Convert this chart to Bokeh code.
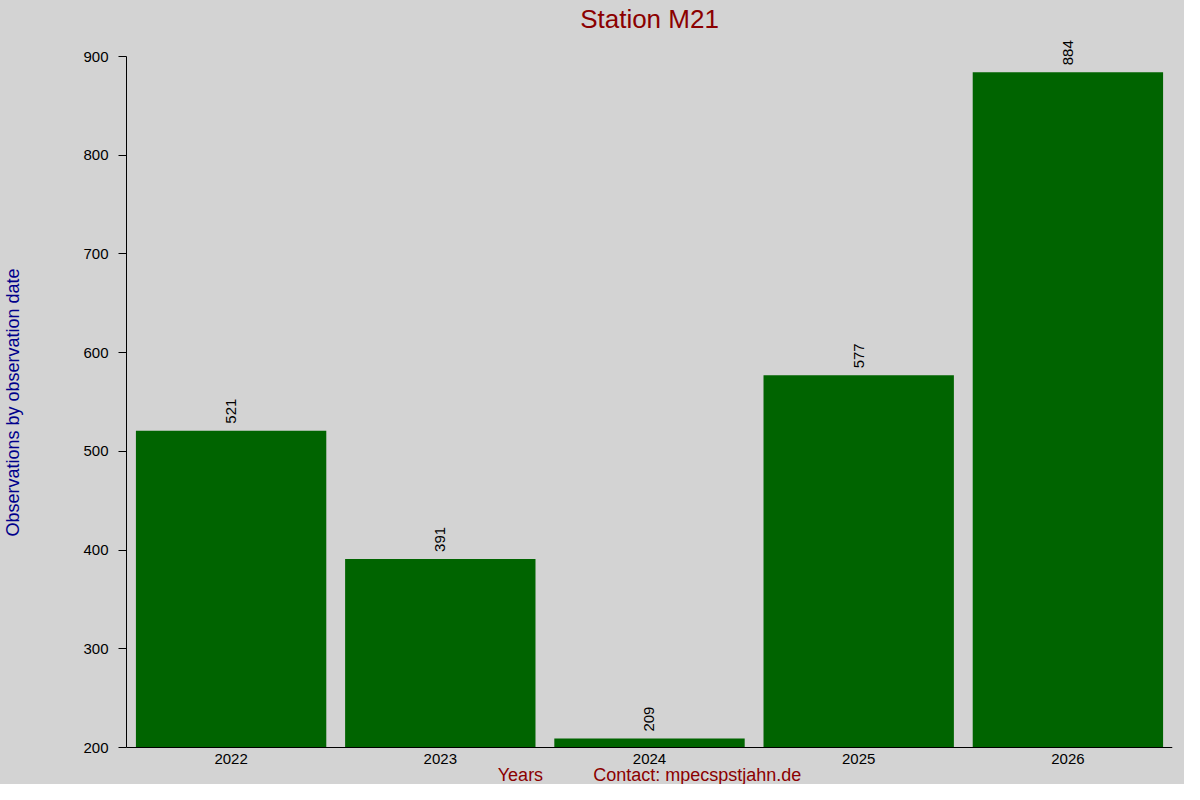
from math import pi

from bokeh.plotting import figure
from bokeh.models import ColumnDataSource, LabelSet, Label, FixedTicker, Range1d
from bokeh.core.properties import value
from bokeh.embed import file_html
from bokeh.resources import INLINE

years = ["2022", "2023", "2024", "2025", "2026"]
counts = [521, 391, 209, 577, 884]
y_ticks = [200, 300, 400, 500, 600, 700, 800, 900]

FONT = "Liberation Sans"
BG = "#d3d3d3"
W, H = 1184, 784

# frame spans the whole height so that labels above 900 and the texts under
# the axis are not clipped; the axes only cover 200..900
y_min, y_max = y_ticks[0], y_ticks[-1]
top_px, bottom_px = 56, 747
px_per_unit = (bottom_px - top_px) / (y_max - y_min)
y_lo = y_min - (H - bottom_px) / px_per_unit
y_hi = y_max + top_px / px_per_unit

source = ColumnDataSource(data=dict(year=years, count=counts, label=[str(c) for c in counts]))

p = figure(x_range=years, y_range=Range1d(y_lo, y_hi), width=W, height=H,
           output_backend="svg", toolbar_location=None,
           min_border_left=126, min_border_right=12, min_border_top=0, min_border_bottom=0)
p.x_range.range_padding = 0
p.styles = {"background-color": BG}

p.vbar(x="year", top="count", bottom=y_min, width=0.91, source=source,
       fill_color="#006400", line_color=None)

p.add_layout(LabelSet(x="year", y="count", text="label", source=source, angle=pi / 2,
                      text_align="left", text_baseline="middle", y_offset=7,
                      text_font=value(FONT), text_font_size="15px", text_color="black"))

# title
p.add_layout(Label(x=len(years) / 2, y=y_max + 38 / px_per_unit, text="Station M21",
                   text_align="center", text_baseline="middle", text_font=FONT,
                   text_font_size="26px", text_color="#8b0000"))

# x axis caption
p.add_layout(Label(x=len(years) / 2, y=y_lo,
                   text="Years" + "\u00a0" * 10 + "Contact: mpecspstjahn.de",
                   text_align="center", text_baseline="bottom", text_font=FONT,
                   text_font_size="18px", text_color="#8b0000"))

p.background_fill_color = BG
p.border_fill_color = BG
p.outline_line_color = None
p.grid.visible = False

p.yaxis.ticker = FixedTicker(ticks=y_ticks)
p.yaxis.bounds = (y_min, y_max)
p.yaxis.minor_tick_line_color = None
p.yaxis.major_tick_out = 8
p.yaxis.major_tick_in = 0
p.yaxis.major_label_standoff = 10
p.yaxis.axis_label = "Observations by observation date" + "\u00a0" * 4
p.yaxis.axis_label_text_color = "#00008b"
p.yaxis.axis_label_text_font_size = "18px"
p.yaxis.axis_label_standoff = 57

p.xaxis.fixed_location = y_min
p.xaxis.major_tick_line_color = None
p.xaxis.minor_tick_line_color = None
p.xaxis.major_label_standoff = 0

for ax in (p.xaxis[0], p.yaxis[0]):
    ax.axis_line_color = "black"
    ax.major_label_text_font = FONT
    ax.major_label_text_font_size = "15px"
    ax.major_label_text_color = "black"
    ax.axis_label_text_font = FONT
    ax.axis_label_text_font_style = "normal"

open("out.html", "w").write(file_html(p, INLINE))
